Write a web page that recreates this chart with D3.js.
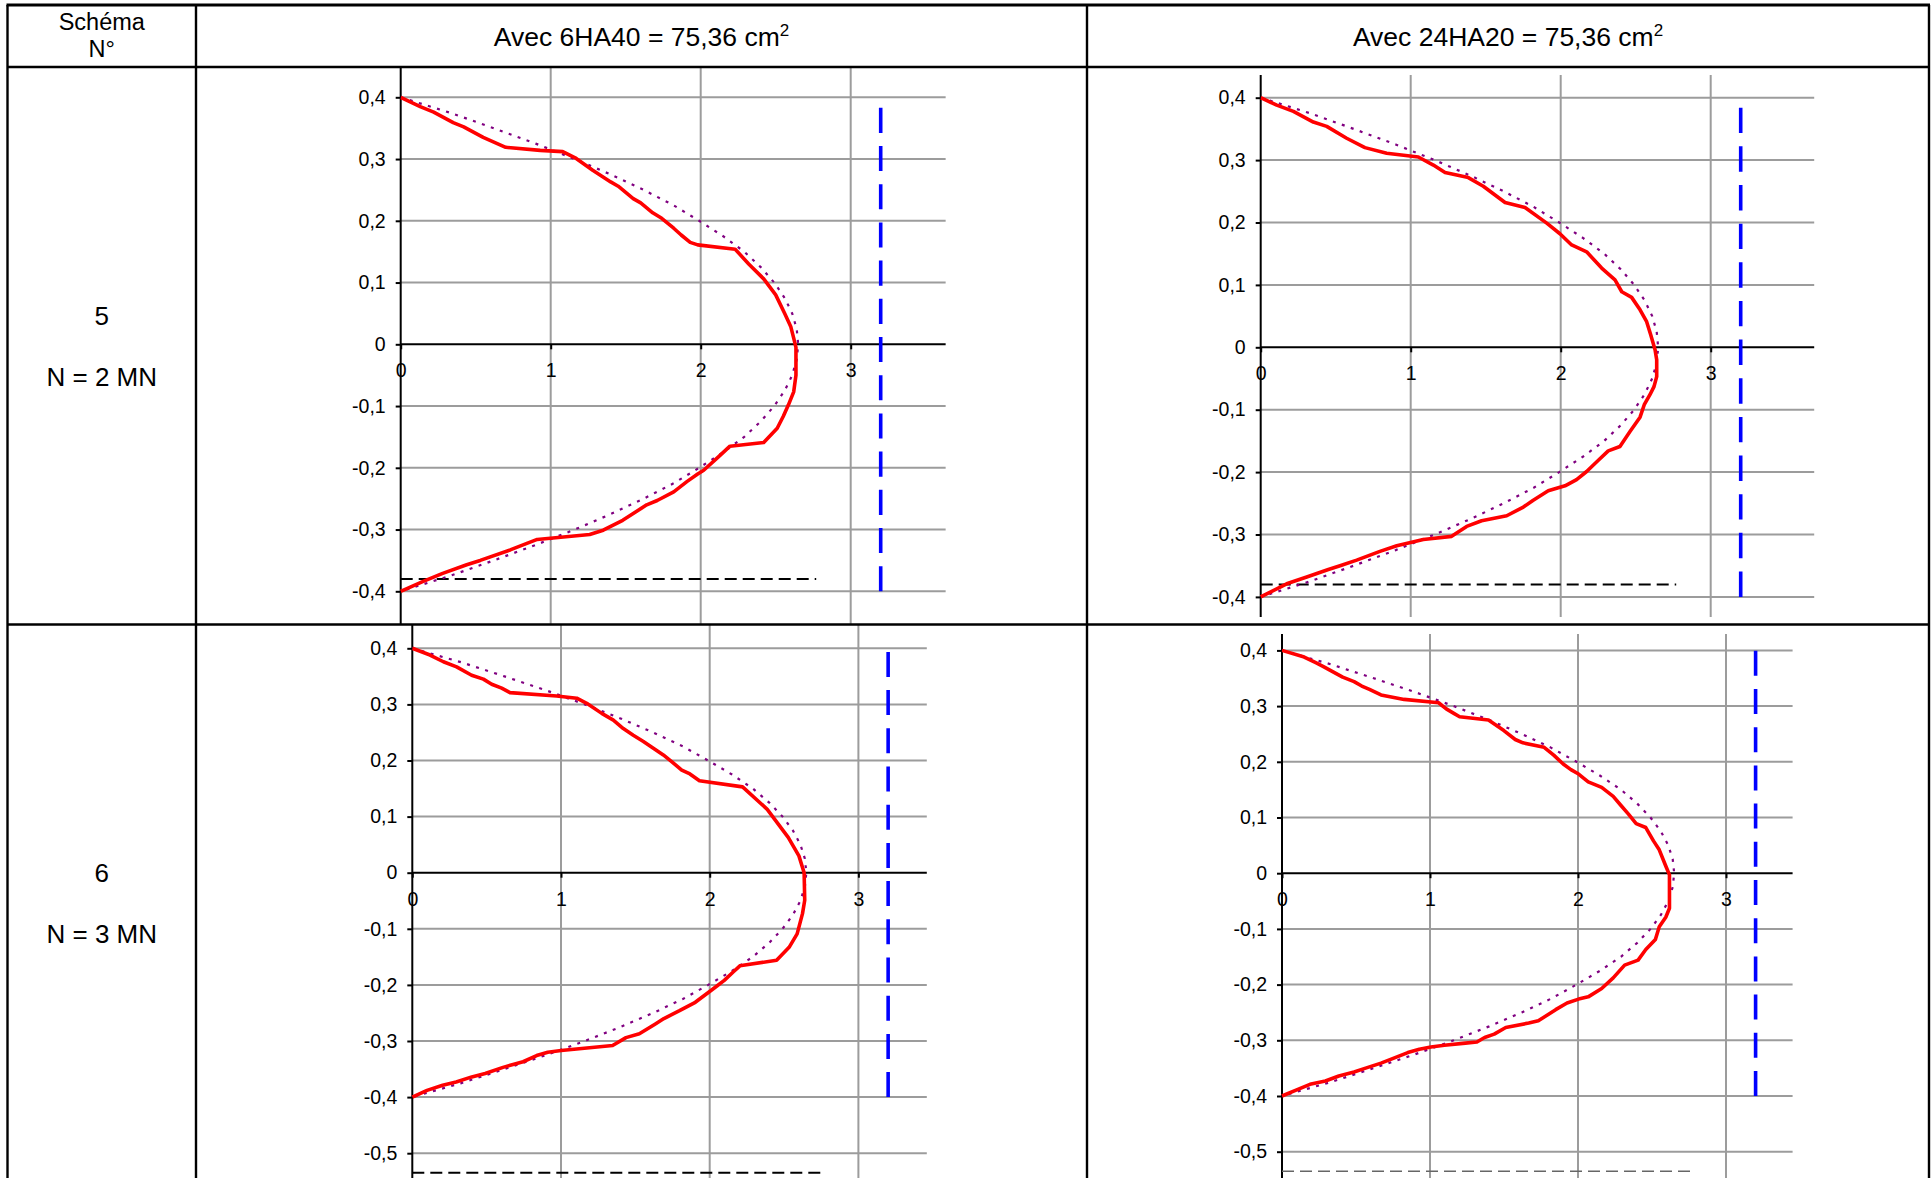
<!DOCTYPE html>
<html>
<head>
<meta charset="utf-8">
<script src="https://cdn.jsdelivr.net/npm/d3@7"></script>
<style>
  html, body { margin: 0; padding: 0; background: #fff; }
  svg { display: block; font-family: "Liberation Sans", Arial, sans-serif; }
</style>
</head>
<body>
<svg id="sheet" width="1931" height="1178"></svg>
<script>
// ---------- table texts ----------
const cornerHeader = ["Schéma", "N°"];
const columnTitles = ["Avec 6HA40 = 75,36 cm", "Avec 24HA20 = 75,36 cm"];
const titleExponent = "2";
const schemaNumbers = ["5", "6"];
const axialLoads = ["N = 2 MN", "N = 3 MN"];

// ---------- axes ----------
const xTickValues = [0, 1, 2, 3];
const yTicksRow5 = [0.4, 0.3, 0.2, 0.1, 0, -0.1, -0.2, -0.3, -0.4];
const yTicksRow6 = [0.4, 0.3, 0.2, 0.1, 0, -0.1, -0.2, -0.3, -0.4, -0.5];

// ---------- reference lines ----------
const stressLimit = 3.2;              // vertical limit line
const limitSpan = [-0.4, 0.4];        // drawn bottom to top
const dashLevels = [-0.38, -0.535];   // horizontal dashed level, row 5 / row 6
const dashExtent = 2.77;

// ---------- parabolic reference profile (x, y) ----------
const parabolicProfile = [
  [0, 0.4], [0.33, 0.375], [0.62, 0.35], [0.9, 0.325], [1.16, 0.3], [1.4, 0.275],
  [1.62, 0.25], [1.82, 0.225], [1.99, 0.2], [2.15, 0.175], [2.29, 0.15], [2.4, 0.125],
  [2.49, 0.1], [2.56, 0.075], [2.61, 0.05], [2.64, 0.025], [2.65, 0],
  [2.64, -0.025], [2.61, -0.05], [2.56, -0.075], [2.49, -0.1], [2.4, -0.125], [2.29, -0.15],
  [2.15, -0.175], [1.99, -0.2], [1.82, -0.225], [1.62, -0.25], [1.4, -0.275], [1.16, -0.3],
  [0.9, -0.325], [0.62, -0.35], [0.33, -0.375], [0, -0.4]
];

// ---------- computed stress profiles (x = stress, y = height) ----------
const stress6HA40_N2 = [
  [0, 0.4], [0.13, 0.385], [0.22, 0.376], [0.35, 0.359], [0.42, 0.352], [0.55, 0.335],
  [0.70, 0.319], [0.93, 0.314], [1.08, 0.312], [1.17, 0.301], [1.28, 0.282], [1.40, 0.263],
  [1.45, 0.256], [1.55, 0.236], [1.60, 0.229], [1.68, 0.213], [1.74, 0.204], [1.82, 0.188],
  [1.87, 0.177], [1.93, 0.165], [1.98, 0.161], [2.23, 0.154], [2.32, 0.130], [2.42, 0.106],
  [2.50, 0.080], [2.56, 0.050], [2.60, 0.029], [2.62, 0.010], [2.635, -0.005],
  [2.635, -0.05], [2.62, -0.077], [2.585, -0.098], [2.55, -0.117], [2.51, -0.136],
  [2.42, -0.159], [2.195, -0.165], [2.12, -0.182], [2.02, -0.204], [1.98, -0.21],
  [1.91, -0.222], [1.82, -0.239], [1.71, -0.253], [1.64, -0.26], [1.48, -0.285],
  [1.35, -0.301], [1.26, -0.308], [0.91, -0.316], [0.73, -0.333], [0.53, -0.35],
  [0.44, -0.357], [0.28, -0.371], [0.15, -0.384], [0, -0.4]
];

const stress24HA20_N2 = [
  [0, 0.4], [0.107, 0.388], [0.218, 0.378], [0.351, 0.361], [0.44, 0.354], [0.573, 0.335],
  [0.695, 0.32], [0.84, 0.311], [1.051, 0.305], [1.151, 0.292], [1.229, 0.28], [1.384, 0.272],
  [1.484, 0.258], [1.629, 0.232], [1.762, 0.224], [1.907, 0.199], [1.995, 0.182], [2.073, 0.164],
  [2.173, 0.153], [2.273, 0.127], [2.362, 0.108], [2.407, 0.089], [2.473, 0.08], [2.529, 0.06],
  [2.573, 0.041], [2.6, 0.02], [2.629, -0.004], [2.64, -0.02], [2.64, -0.047], [2.622, -0.063],
  [2.595, -0.076], [2.557, -0.092], [2.529, -0.112], [2.462, -0.135], [2.395, -0.159],
  [2.317, -0.166], [2.251, -0.181], [2.173, -0.199], [2.106, -0.212], [2.029, -0.222],
  [1.917, -0.23], [1.817, -0.245], [1.751, -0.256], [1.64, -0.27], [1.473, -0.278],
  [1.373, -0.287], [1.273, -0.303], [1.084, -0.308], [0.907, -0.318], [0.795, -0.327],
  [0.64, -0.341], [0.529, -0.35], [0.451, -0.356], [0.307, -0.368], [0.173, -0.379], [0, -0.4]
];

const stress6HA40_N3 = [
  [0, 0.4], [0.119, 0.388], [0.209, 0.376], [0.298, 0.367], [0.399, 0.352], [0.478, 0.345],
  [0.534, 0.336], [0.601, 0.329], [0.657, 0.321], [0.971, 0.315], [1.106, 0.311], [1.173, 0.302],
  [1.274, 0.284], [1.352, 0.272], [1.419, 0.257], [1.486, 0.245], [1.554, 0.234], [1.621, 0.222],
  [1.688, 0.21], [1.744, 0.198], [1.812, 0.183], [1.867, 0.176], [1.931, 0.164], [2.221, 0.153],
  [2.387, 0.113], [2.528, 0.063], [2.6, 0.03], [2.635, 0],
  [2.639, -0.049], [2.624, -0.073], [2.588, -0.109], [2.534, -0.133], [2.45, -0.156],
  [2.203, -0.166], [2.158, -0.177], [2.098, -0.192], [2.053, -0.201], [1.993, -0.213],
  [1.903, -0.231], [1.797, -0.246], [1.692, -0.26], [1.632, -0.27], [1.527, -0.287],
  [1.437, -0.294], [1.347, -0.308], [1.001, -0.317], [0.911, -0.32], [0.836, -0.326],
  [0.745, -0.337], [0.61, -0.347], [0.49, -0.358], [0.4, -0.364], [0.295, -0.373],
  [0.204, -0.379], [0.099, -0.388], [0, -0.4]
];

const stress24HA20_N3 = [
  [0, 0.4], [0.15, 0.388], [0.228, 0.378], [0.28, 0.371], [0.41, 0.352], [0.487, 0.344],
  [0.539, 0.336], [0.591, 0.33], [0.669, 0.32], [0.825, 0.312], [1.058, 0.306], [1.11, 0.295],
  [1.161, 0.287], [1.2, 0.281], [1.395, 0.275], [1.499, 0.256], [1.576, 0.24], [1.628, 0.234],
  [1.771, 0.226], [1.836, 0.212], [1.9, 0.196], [1.952, 0.186], [2.004, 0.178], [2.069, 0.164],
  [2.16, 0.154], [2.238, 0.138], [2.289, 0.122], [2.341, 0.106], [2.393, 0.089], [2.458, 0.082],
  [2.51, 0.058], [2.549, 0.042], [2.593, 0.013], [2.618, -0.003],
  [2.618, -0.063], [2.593, -0.079], [2.549, -0.096], [2.523, -0.119], [2.458, -0.137],
  [2.406, -0.156], [2.315, -0.165], [2.238, -0.188], [2.16, -0.207], [2.069, -0.222],
  [2.004, -0.226], [1.926, -0.233], [1.849, -0.245], [1.732, -0.265], [1.667, -0.269],
  [1.512, -0.277], [1.434, -0.289], [1.369, -0.295], [1.317, -0.303], [1.239, -0.305],
  [1.097, -0.309], [1.006, -0.312], [0.928, -0.316], [0.85, -0.322], [0.747, -0.333],
  [0.669, -0.341], [0.565, -0.35], [0.487, -0.357], [0.384, -0.364], [0.293, -0.373],
  [0.189, -0.379], [0.099, -0.389], [0, -0.4]
];

// ---------- layout ----------
const W = 1931, H = 1178;
const table = { left: 7.5, right: 1929, top: 5, header: 67, rowSep: 624.5, bottom: 1183, col1: 196, col2: 1087 };
const font = "'Liberation Sans', Arial, sans-serif";
const tickFont = 19.5;

// pixel frame of each small chart
const panels = [
  { stress: stress6HA40_N2,  yTicks: yTicksRow5, dash: dashLevels[0],
    x0: 400.7, ux: 150,   y0: 344.3, uy: 617.5, xMax: 3.633, top: 67,    bottom: 624.5,
    dashColor: "#000", dashWidth: 2, limitDash: "25.1,13.1" },
  { stress: stress24HA20_N2, yTicks: yTicksRow5, dash: dashLevels[0],
    x0: 1260.7, ux: 150,  y0: 347.3, uy: 624,   xMax: 3.69,  top: 75,    bottom: 617,
    dashColor: "#000", dashWidth: 2, limitDash: "25.4,13.25" },
  { stress: stress6HA40_N3,  yTicks: yTicksRow6, dash: dashLevels[1],
    x0: 412.3, ux: 148.7, y0: 872.7, uy: 561,   xMax: 3.46,  top: 624.5, bottom: 1183,
    dashColor: "#000", dashWidth: 2, limitDash: "25,13.2" },
  { stress: stress24HA20_N3, yTicks: yTicksRow6, dash: dashLevels[1],
    x0: 1282, ux: 148,    y0: 873.2, uy: 557,   xMax: 3.45,  top: 634,   bottom: 1183,
    dashColor: "#666", dashWidth: 1.6, limitDash: "25,13.2" }
];

const svg = d3.select("#sheet");
svg.append("rect").attr("width", W).attr("height", H).attr("fill", "#fff");

const fmt = v => (v === 0 ? "0" : String(v).replace(".", ","));

panels.forEach((p, i) => {
  const x = d3.scaleLinear().domain([0, p.xMax]).range([p.x0, p.x0 + p.xMax * p.ux]);
  const y = d3.scaleLinear().domain([-0.4, 0.4]).range([p.y0 + 0.4 * p.uy, p.y0 - 0.4 * p.uy]);
  const xRight = x(p.xMax);

  const clipId = "plot-clip-" + i;
  svg.append("clipPath").attr("id", clipId)
    .append("rect")
    .attr("x", p.x0 - 8).attr("y", p.top)
    .attr("width", xRight - p.x0 + 10).attr("height", p.bottom - p.top);

  const g = svg.append("g").attr("clip-path", `url(#${clipId})`);

  // horizontal gridlines
  g.selectAll("line.hgrid").data(p.yTicks.filter(v => v !== 0)).join("line")
    .attr("class", "hgrid")
    .attr("x1", x(0)).attr("x2", xRight)
    .attr("y1", d => y(d)).attr("y2", d => y(d))
    .attr("stroke", "#9c9c9c").attr("stroke-width", 2);

  // vertical gridlines
  g.selectAll("line.vgrid").data(xTickValues.filter(v => v > 0)).join("line")
    .attr("class", "vgrid")
    .attr("x1", d => x(d)).attr("x2", d => x(d))
    .attr("y1", p.top).attr("y2", p.bottom)
    .attr("stroke", "#9c9c9c").attr("stroke-width", 2);

  // axis lines
  g.append("line").attr("x1", x(0)).attr("x2", x(0)).attr("y1", p.top).attr("y2", p.bottom)
    .attr("stroke", "#000").attr("stroke-width", 2);
  g.append("line").attr("x1", x(0)).attr("x2", xRight).attr("y1", y(0)).attr("y2", y(0))
    .attr("stroke", "#000").attr("stroke-width", 2);

  // y axis ticks and labels
  const ya = svg.append("g").attr("transform", `translate(${x(0)},0)`)
    .call(d3.axisLeft(y).tickValues(p.yTicks).tickSize(5).tickPadding(10).tickFormat(fmt));
  ya.select(".domain").remove();
  ya.selectAll("line").attr("stroke", "#000").attr("stroke-width", 2);
  ya.selectAll("text").attr("font-family", font).attr("font-size", tickFont).attr("fill", "#000");

  // x axis ticks and labels along y = 0
  const xa = svg.append("g").attr("transform", `translate(0,${y(0)})`)
    .call(d3.axisBottom(x).tickValues(xTickValues).tickSize(5).tickPadding(14).tickFormat(fmt));
  xa.select(".domain").remove();
  xa.selectAll("line").attr("stroke", "#000").attr("stroke-width", 2);
  xa.selectAll("text").attr("font-family", font).attr("font-size", tickFont).attr("fill", "#000");

  const line = d3.line().x(d => x(d[0])).y(d => y(d[1]));

  // horizontal dashed level
  g.append("path").datum([[0, p.dash], [dashExtent, p.dash]])
    .attr("d", line).attr("fill", "none")
    .attr("stroke", p.dashColor).attr("stroke-width", p.dashWidth)
    .attr("stroke-dasharray", "12,6");

  // vertical limit line
  g.append("path").datum([[stressLimit, limitSpan[0]], [stressLimit, limitSpan[1]]])
    .attr("d", line).attr("fill", "none")
    .attr("stroke", "#0000ff").attr("stroke-width", 3.6)
    .attr("stroke-dasharray", p.limitDash);

  // parabolic reference
  g.append("path").datum(parabolicProfile)
    .attr("d", line).attr("fill", "none")
    .attr("stroke", "#800080").attr("stroke-width", 2.2)
    .attr("stroke-dasharray", "3,6.5");

  // computed profile
  g.append("path").datum(p.stress)
    .attr("d", line).attr("fill", "none")
    .attr("stroke", "#ff0000").attr("stroke-width", 3.6)
    .attr("stroke-linejoin", "round");
});

// ---------- table frame ----------
const frame = svg.append("g").attr("stroke", "#000").attr("fill", "none");
frame.append("line").attr("x1", table.left - 1).attr("x2", table.right + 1).attr("y1", table.top).attr("y2", table.top).attr("stroke-width", 3);
frame.append("line").attr("x1", table.left).attr("x2", table.right).attr("y1", table.header).attr("y2", table.header).attr("stroke-width", 2.4);
frame.append("line").attr("x1", table.left).attr("x2", table.right).attr("y1", table.rowSep).attr("y2", table.rowSep).attr("stroke-width", 2.4);
[table.left, table.col1, table.col2, table.right].forEach(cx => {
  frame.append("line").attr("x1", cx).attr("x2", cx).attr("y1", table.top).attr("y2", table.bottom).attr("stroke-width", 2.4);
});

// ---------- table texts ----------
const txt = svg.append("g").attr("font-family", font).attr("font-size", 26).attr("fill", "#000").attr("text-anchor", "middle");
const c0 = (table.left + table.col1) / 2;
txt.append("text").attr("x", c0).attr("y", 30).attr("font-size", 23.5).text(cornerHeader[0]);
txt.append("text").attr("x", c0).attr("y", 56.5).attr("font-size", 23.5).text(cornerHeader[1]);

[[(table.col1 + table.col2) / 2, columnTitles[0]], [(table.col2 + table.right) / 2, columnTitles[1]]].forEach(([cx, t]) => {
  const el = txt.append("text").attr("x", cx).attr("y", 46).attr("font-size", 26.5);
  el.append("tspan").text(t);
  el.append("tspan").attr("font-size", 17).attr("dy", -10).text(titleExponent);
});

const rowCenters = [(table.header + table.rowSep) / 2, 903];
rowCenters.forEach((cy, i) => {
  txt.append("text").attr("x", c0).attr("y", cy - 21).text(schemaNumbers[i]);
  txt.append("text").attr("x", c0).attr("y", cy + 40).text(axialLoads[i]);
});
</script>
</body>
</html>
